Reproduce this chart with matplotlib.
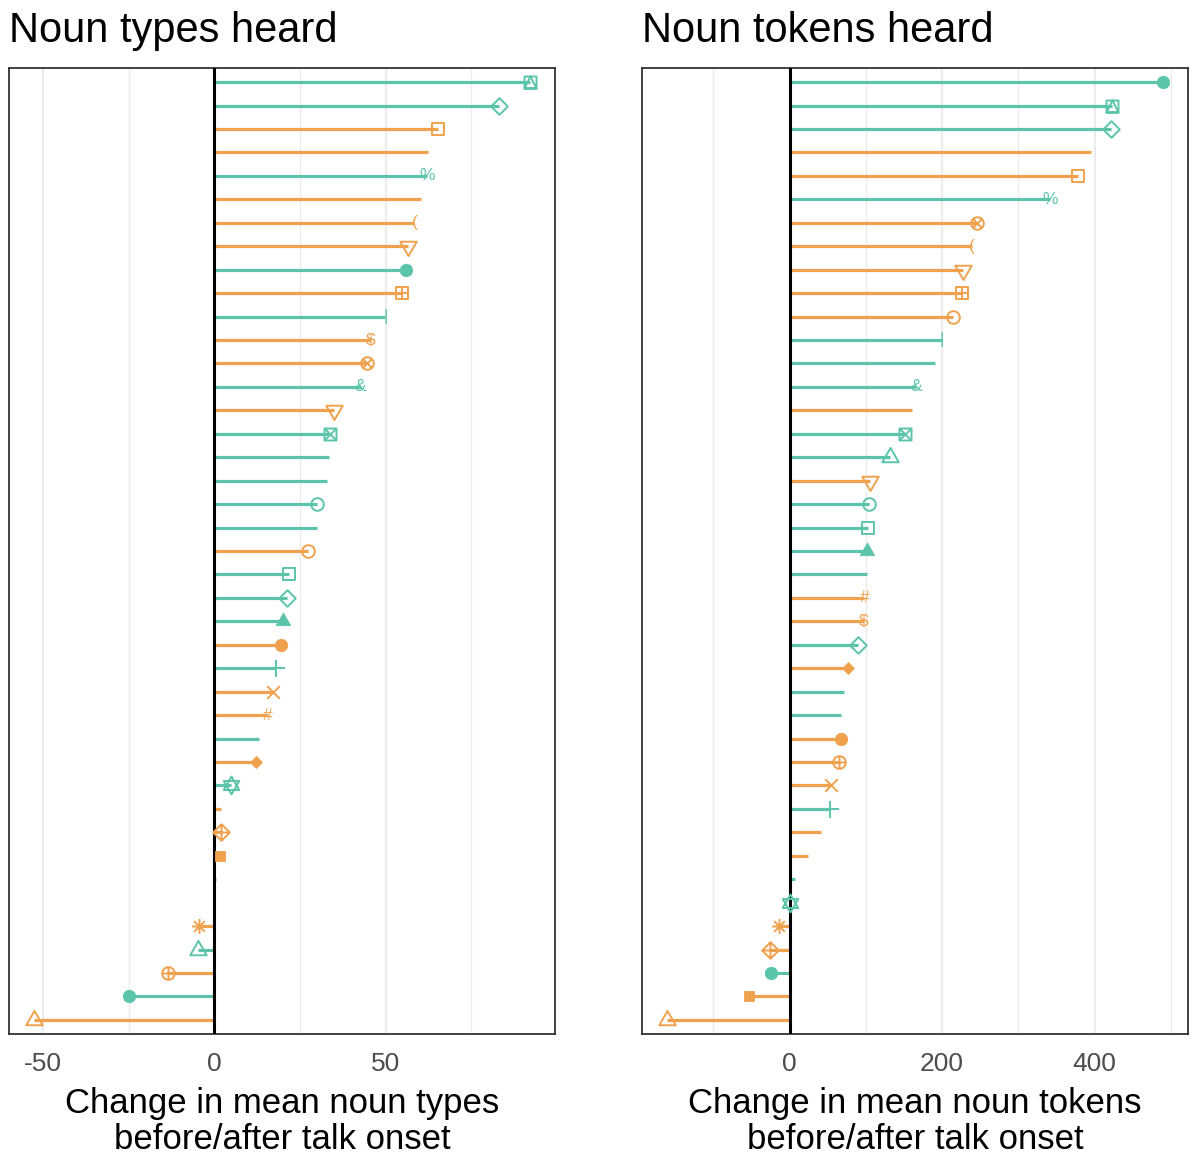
import numpy as np
import matplotlib
matplotlib.use("Agg")
import matplotlib.pyplot as plt
from matplotlib.path import Path
from matplotlib.markers import MarkerStyle

plt.rcParams["font.family"] = ["Liberation Sans", "DejaVu Sans"]
plt.rcParams["axes.unicode_minus"] = False

# ---- data (rows listed top to bottom) ------------------------------------
types_values = [92.2, 83.1, 65.2, 62.3, 62.0, 60.4, 58.4, 56.5, 56.0, 54.7,
                49.9, 45.6, 44.6, 42.7, 35.0, 33.7, 33.6, 32.8, 30.0, 29.9,
                27.2, 21.9, 21.3, 20.1, 19.5, 17.9, 17.1, 15.6, 12.9, 12.1,
                4.9, 2.0, 1.9, 1.7, 0.6, 0.0, -4.4, -4.9, -13.6, -24.9, -52.7]
types_groups = ["A", "A", "B", "B", "A", "B", "B", "B", "A", "B",
                "A", "B", "B", "A", "B", "A", "A", "A", "A", "A",
                "B", "A", "A", "A", "B", "A", "B", "B", "A", "B",
                "A", "B", "B", "B", "A", "B", "B", "A", "B", "A", "B"]
types_shapes = ["sqt", "di", "sq", "", "%", "", "(", "td", "fci", "sqp",
                "|", "$", "cix", "&", "td", "sqx", "", "", "ci", "",
                "ci", "sq", "di", "ftu", "fci", "pl", "x", "#", "", "fdi",
                "hex", "", "dip", "fsq", "", "", "ast", "tu", "cip", "fci", "tu"]

tokens_values = [490.0, 423.5, 421.0, 395.6, 377.8, 342.0, 246.0, 238.8, 227.9, 226.6,
                 214.4, 200.0, 190.8, 166.4, 160.4, 151.2, 132.0, 105.4, 104.6, 102.8,
                 101.2, 101.0, 98.0, 97.0, 89.3, 77.1, 71.0, 67.5, 67.4, 65.4,
                 54.5, 53.6, 41.4, 24.0, 7.4, 1.0, -14.0, -25.5, -24.5, -53.6, -161.0]
tokens_groups = ["A", "A", "A", "B", "B", "A", "B", "B", "B", "B",
                 "B", "A", "A", "A", "B", "A", "A", "B", "A", "A",
                 "A", "A", "B", "B", "A", "B", "A", "A", "B", "B",
                 "B", "A", "B", "B", "A", "A", "B", "B", "A", "B", "B"]
tokens_shapes = ["fci", "sqt", "di", "", "sq", "%", "cix", "(", "td", "sqp",
                 "ci", "|", "", "&", "", "sqx", "tu", "td", "ci", "sq",
                 "ftu", "", "#", "$", "di", "fdi", "", "", "fci", "cip",
                 "x", "pl", "", "", "", "hex", "ast", "dip", "fci", "fsq", "tu"]

types_ticks = [-50, 0, 50]
tokens_ticks = [0, 200, 400]

GROUP_COLORS = {"A": "#5cc4ab", "B": "#f0a14d"}

# ---- marker shapes, built in pixel units ---------------------------------
def _lines(*segs):
    verts, codes = [], []
    for (a, b) in segs:
        verts += [a, b]
        codes += [Path.MOVETO, Path.LINETO]
    return Path(verts, codes)

def _poly(pts):
    return Path(list(pts) + [pts[0]],
                [Path.MOVETO] + [Path.LINETO] * (len(pts) - 1) + [Path.CLOSEPOLY])

def _circ(r):
    c = Path.unit_circle()
    return Path(c.vertices * r, c.codes)

def _tri(w, down=False):
    h = w * np.sqrt(3) / 2
    s = -1 if down else 1
    return _poly([(-w / 2, -s * h / 3), (w / 2, -s * h / 3), (0, s * 2 * h / 3)])

def _sq(h):
    return _poly([(-h, -h), (h, -h), (h, h), (-h, h)])

def _dia(h):
    return _poly([(0, -h), (h, 0), (0, h), (-h, 0)])

comp = Path.make_compound_path
SQ = 6.0
CR = 6.3
SHAPES = {
    "sq": (_sq(SQ), False),
    "ci": (_circ(CR), False),
    "tu": (_tri(16.5), False),
    "td": (_tri(16.5, down=True), False),
    "pl": (_lines(((-8.5, 0), (8.5, 0)), ((0, -8.5), (0, 8.5))), False),
    "x": (_lines(((-6.3, -6.3), (6.3, 6.3)), ((-6.3, 6.3), (6.3, -6.3))), False),
    "di": (_dia(8.3), False),
    "sqx": (comp(_sq(SQ), _lines(((-SQ, -SQ), (SQ, SQ)), ((-SQ, SQ), (SQ, -SQ)))), False),
    "ast": (_lines(((-7.5, 0), (7.5, 0)), ((0, -7.5), (0, 7.5)),
                   ((-5.3, -5.3), (5.3, 5.3)), ((-5.3, 5.3), (5.3, -5.3))), False),
    "dip": (comp(_dia(8.3), _lines(((-8.3, 0), (8.3, 0)), ((0, -8.3), (0, 8.3)))), False),
    "cip": (comp(_circ(CR), _lines(((-CR, 0), (CR, 0)), ((0, -CR), (0, CR)))), False),
    "hex": (comp(_tri(15.5), _tri(15.5, down=True)), False),
    "sqp": (comp(_sq(SQ), _lines(((-SQ, 0), (SQ, 0)), ((0, -SQ), (0, SQ)))), False),
    "cix": (comp(_circ(CR), _lines(((-CR * 0.707, -CR * 0.707), (CR * 0.707, CR * 0.707)),
                                   ((-CR * 0.707, CR * 0.707), (CR * 0.707, -CR * 0.707)))), False),
    "sqt": (comp(_sq(SQ), _poly([(-SQ, -SQ), (SQ, -SQ), (0, SQ)])), False),
    "fsq": (_sq(4.8), True),
    "fci": (_circ(6.2), True),
    "ftu": (_tri(14.5), True),
    "fdi": (_dia(6.0), True),
}
PX2PT = 72.0 / 100.0


def draw_panel(ax, values, groups, shapes, ticks, minor_step, xlabel, title):
    values = np.asarray(values, dtype=float)
    n = len(values)
    ypos = np.arange(n, 0, -1)
    lo, hi = values.min(), values.max()
    pad = 0.05 * (hi - lo)

    # grid
    major = np.array(ticks, dtype=float)
    step = major[1] - major[0]
    allmin = np.arange(major[0] - 4 * step, major[-1] + 4 * step, step) + minor_step
    ax.set_xticks(major)
    ax.set_xticks(allmin, minor=True)
    ax.set_xlim(lo - pad, hi + pad)
    ax.set_ylim(0.4, n + 0.6)
    ax.grid(which="major", axis="x", color="#ebebeb", lw=1.5)
    ax.grid(which="minor", axis="x", color="#ebebeb", lw=0.9)
    ax.set_axisbelow(True)
    ax.set_yticks([])
    ax.tick_params(axis="x", which="both", length=0, labelsize=19,
                   labelcolor="#4d4d4d", pad=13)
    for sp in ax.spines.values():
        sp.set_color("#333333")
        sp.set_linewidth(1.3)

    colors = [GROUP_COLORS[g] for g in groups]
    ax.hlines(ypos, 0, values, colors=colors, lw=2.3, capstyle="butt", zorder=2)
    ax.axvline(0, color="black", lw=2.2, zorder=3)

    for v, y, c, s in zip(values, ypos, colors, shapes):
        if s == "":
            continue
        if s in SHAPES:
            path, filled = SHAPES[s]
            ms = 2 * np.max(np.abs(path.vertices)) * PX2PT
            if filled:
                ax.plot([v], [y], ls="none", marker=MarkerStyle(path), ms=ms,
                        mfc=c, mec=c, mew=0.6, zorder=4)
            else:
                ax.plot([v], [y], ls="none", marker=MarkerStyle(path), ms=ms,
                        mfc="none", mec=c, mew=1.4, zorder=4)
        else:
            ax.text(v, y, s, ha="center", va="center", color=c, fontsize=12.5,
                    zorder=4)

    ax.set_xlabel(xlabel, fontsize=25, linespacing=1.1, labelpad=8)
    ax.set_title(title, loc="left", fontsize=30, pad=19)


fig = plt.figure(figsize=(11.92, 11.58), dpi=100)
W, H = 1192.0, 1158.0
axL = fig.add_axes([9 / W, 1 - 1034 / H, 546 / W, 966 / H])
axR = fig.add_axes([642 / W, 1 - 1034 / H, 546 / W, 966 / H])

draw_panel(axL, types_values, types_groups, types_shapes, types_ticks, 25,
           "Change in mean noun types\nbefore/after talk onset", "Noun types heard")
draw_panel(axR, tokens_values, tokens_groups, tokens_shapes, tokens_ticks, 100,
           "Change in mean noun tokens\nbefore/after talk onset", "Noun tokens heard")

fig.savefig("out.png", dpi=100, facecolor="white")
